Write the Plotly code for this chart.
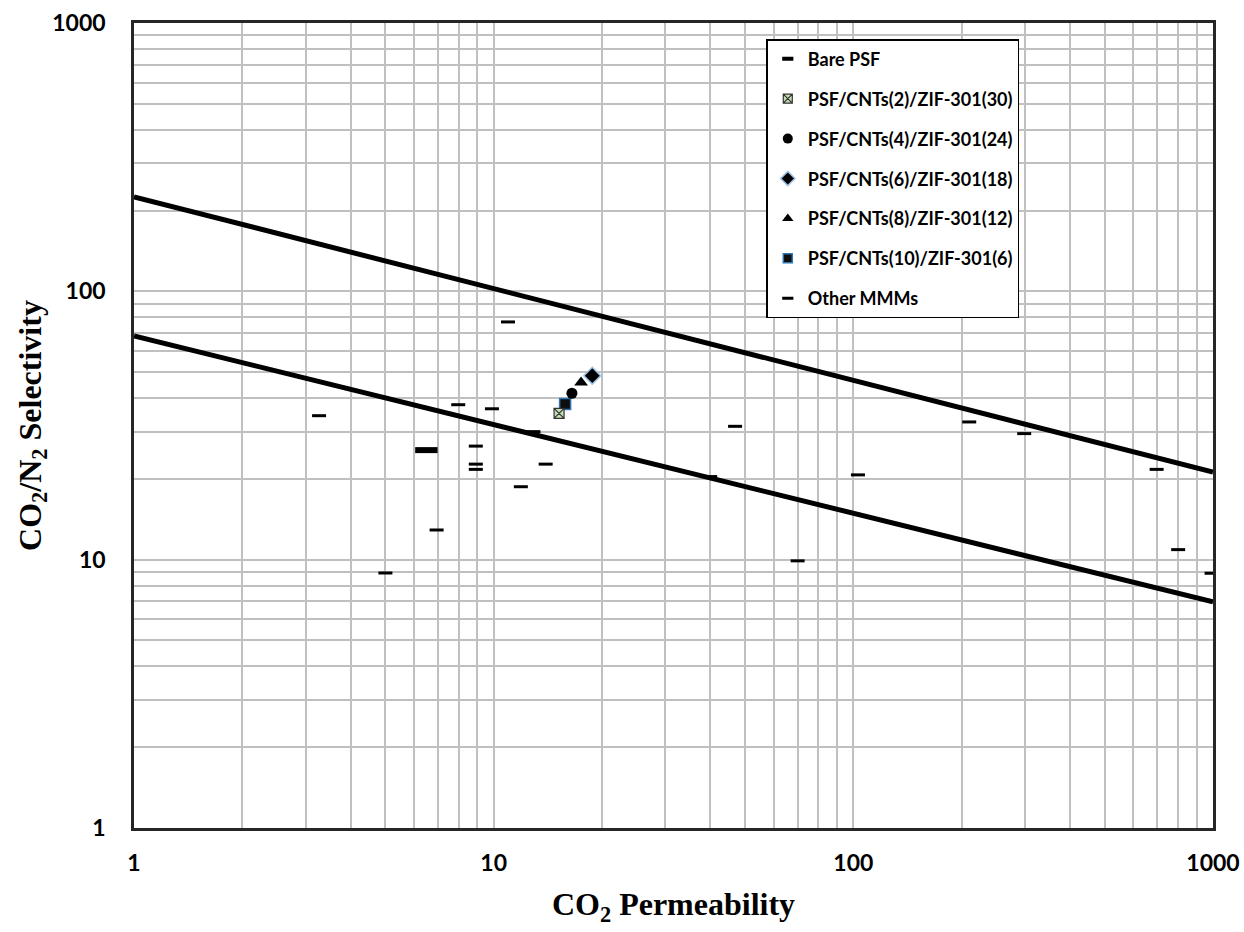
import plotly.graph_objects as go

# ---- data ----
bare_psf_x = [6.5]
bare_psf_y = [25.6]

cnt2_x = [15.2]
cnt2_y = [35.1]
cnt4_x = [16.5]
cnt4_y = [41.7]
cnt6_x = [18.8]
cnt6_y = [48.5]
cnt8_x = [17.5]
cnt8_y = [45.7]
cnt10_x = [15.8]
cnt10_y = [38.0]

other_x = [3.27, 5.0, 6.94, 7.97, 8.92, 8.92, 8.92, 9.89, 10.96, 11.9, 12.9, 13.95,
           40.0, 46.9, 70.0, 103.0, 210.0, 298.6, 697.0, 800.0, 991.0]
other_y = [34.4, 8.92, 12.9, 37.8, 26.5, 22.7, 21.7, 36.5, 76.9, 18.7, 30.0, 22.7,
           20.4, 31.4, 9.9, 20.7, 32.6, 29.5, 21.7, 10.9, 8.9]

upper_x = [1, 1000]
upper_y = [225, 21.2]
lower_x = [1, 1000]
lower_y = [68.2, 6.96]

tick_vals = [1, 10, 100, 1000]
tick_text = ["1", "10", "100", "1000"]

series_names = ["Bare PSF", "PSF/CNTs(2)/ZIF-301(30)", "PSF/CNTs(4)/ZIF-301(24)",
                "PSF/CNTs(6)/ZIF-301(18)", "PSF/CNTs(8)/ZIF-301(12)",
                "PSF/CNTs(10)/ZIF-301(6)", "Other MMMs"]

dash_small = dict(symbol="line-ew", size=10, line=dict(color="black", width=3))
dash_big = dict(symbol="line-ew", size=16, line=dict(color="black", width=6))
m_cnt2 = dict(symbol="square-x", size=10, color="#c5e0b4", line=dict(color="#333333", width=1.2))
m_cnt4 = dict(symbol="circle", size=11, color="black")
m_cnt6 = dict(symbol="diamond", size=13, color="black", line=dict(color="#9dc3e6", width=1.5))
m_cnt8 = dict(symbol="triangle-up", size=12, color="black")
m_cnt10 = dict(symbol="square", size=11, color="#0d0d0d", line=dict(color="#2e75b6", width=1.5))

fig = go.Figure()

fig.add_trace(go.Scatter(x=upper_x, y=upper_y, mode="lines",
                         line=dict(color="black", width=5), showlegend=False))
fig.add_trace(go.Scatter(x=lower_x, y=lower_y, mode="lines",
                         line=dict(color="black", width=5), showlegend=False))

fig.add_trace(go.Scatter(x=other_x, y=other_y, mode="markers", name=series_names[6],
                         marker=dash_small, showlegend=False))
fig.add_trace(go.Scatter(x=bare_psf_x, y=bare_psf_y, mode="markers", name=series_names[0],
                         marker=dash_big, showlegend=False))
fig.add_trace(go.Scatter(x=cnt10_x, y=cnt10_y, mode="markers", name=series_names[5],
                         marker=m_cnt10, showlegend=False))
fig.add_trace(go.Scatter(x=cnt2_x, y=cnt2_y, mode="markers", name=series_names[1],
                         marker=m_cnt2, showlegend=False))
fig.add_trace(go.Scatter(x=cnt4_x, y=cnt4_y, mode="markers", name=series_names[2],
                         marker=m_cnt4, showlegend=False))
fig.add_trace(go.Scatter(x=cnt8_x, y=cnt8_y, mode="markers", name=series_names[4],
                         marker=m_cnt8, showlegend=False))
fig.add_trace(go.Scatter(x=cnt6_x, y=cnt6_y, mode="markers", name=series_names[3],
                         marker=m_cnt6, showlegend=False))

# legend entries (legend-only copies with legend-sized markers)
legend_markers = [
    dict(symbol="line-ew", size=8, line=dict(color="black", width=4)),
    dict(symbol="square-x", size=9, color="#c5e0b4", line=dict(color="#333333", width=1.2)),
    dict(symbol="circle", size=10, color="black"),
    dict(symbol="diamond", size=11, color="black", line=dict(color="#9dc3e6", width=1.5)),
    dict(symbol="triangle-up", size=10, color="black"),
    dict(symbol="square", size=9, color="#0d0d0d", line=dict(color="#2e75b6", width=1.5)),
    dict(symbol="line-ew", size=8, line=dict(color="black", width=3)),
]
for i, (nm, mk) in enumerate(zip(series_names, legend_markers)):
    fig.add_trace(go.Scatter(x=[None], y=[None], mode="markers", name=nm, marker=mk,
                             legendgroup=f"g{i}", legendrank=i + 1, showlegend=True))

tick_font = dict(family="Lato", size=23, color="black", weight="bold")
title_font = dict(family="Liberation Serif", size=32, color="black", weight="bold")

fig.update_xaxes(type="log", range=[0, 3], automargin=False,
                 tickvals=tick_vals, ticktext=tick_text, tickfont=tick_font,
                 ticks="", ticklabelstandoff=13,
                 showgrid=True, gridcolor="#c0c0c0", gridwidth=1.6,
                 minor=dict(dtick="D1", showgrid=True, gridcolor="#c0c0c0", gridwidth=1.6, ticks=""),
                 showline=True, linecolor="#262626", linewidth=2.5, mirror=True,
                 zeroline=False,
                 title=dict(text="CO<sub>2</sub> Permeability", font=title_font, standoff=18))
fig.update_yaxes(type="log", range=[0, 3], automargin=False,
                 tickvals=tick_vals, ticktext=tick_text, tickfont=tick_font,
                 ticks="", ticklabelstandoff=21,
                 showgrid=True, gridcolor="#c0c0c0", gridwidth=1.6,
                 minor=dict(dtick="D1", showgrid=True, gridcolor="#c0c0c0", gridwidth=1.6, ticks=""),
                 showline=True, linecolor="#262626", linewidth=2.5, mirror=True,
                 zeroline=False,
                 title=dict(text="CO<sub>2</sub>/N<sub>2</sub> Selectivity", font=title_font, standoff=2))

fig.update_layout(
    width=1244, height=932,
    margin=dict(l=134, r=31, t=23, b=104),
    paper_bgcolor="white", plot_bgcolor="white",
    legend=dict(x=0.586, y=0.98, xanchor="left", yanchor="top",
                bgcolor="white", bordercolor="black", borderwidth=1.5,
                font=dict(family="Lato", size=18, color="black", weight="bold"),
                tracegroupgap=13.5, traceorder="grouped"),
)

fig.write_html("out.html")
